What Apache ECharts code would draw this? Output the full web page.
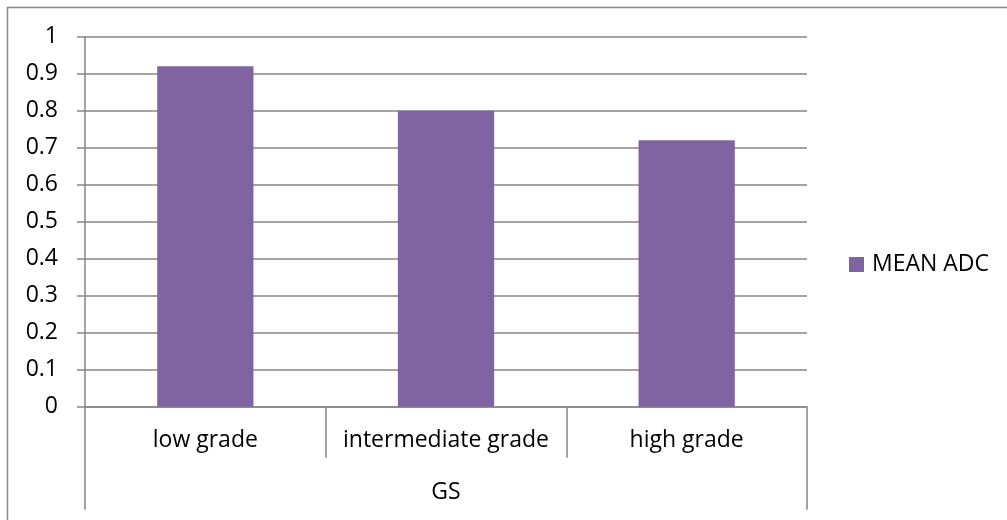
<!DOCTYPE html>
<html>
<head>
<meta charset="utf-8">
<script src="https://cdn.jsdelivr.net/npm/echarts@6/dist/echarts.min.js"></script>
<style>
  html, body { margin: 0; padding: 0; background: #fff; }
  #chart { width: 1007px; height: 520px; }
</style>
</head>
<body>
<div id="chart"></div>
<script>
// Mean ADC by tumour grade (GS)
const categories = ['low grade', 'intermediate grade', 'high grade'];
const groupLabels = ['GS'];
const seriesName = 'MEAN ADC';
const meanAdc = [0.92, 0.80, 0.72];
const yTicks = ['0', '0.1', '0.2', '0.3', '0.4', '0.5', '0.6', '0.7', '0.8', '0.9', '1'];

const FONT = '"Open Sans", Lato, sans-serif';
const FS = 23;
const GRAY = '#868686';
const TEXT = '#000000';

const chart = echarts.init(document.getElementById('chart'), null, { renderer: 'canvas' });

chart.setOption({
  animation: false,
  backgroundColor: '#ffffff',
  textStyle: { fontFamily: FONT },
  graphic: [{
    type: 'rect',
    shape: { x: 7.5, y: 7.5, width: 1020, height: 530 },
    style: { fill: 'none', stroke: GRAY, lineWidth: 1.5 },
    silent: true,
    z: -1
  }],
  legend: {
    show: true,
    data: [seriesName],
    orient: 'vertical',
    left: 849,
    top: 253,
    padding: 0,
    itemWidth: 15,
    itemHeight: 15,
    itemGap: 8,
    icon: 'rect',
    textStyle: { fontFamily: FONT, fontSize: FS, color: TEXT, padding: [0, 0, 0, 3] }
  },
  grid: {
    left: 85,
    right: 200,
    top: 36.7,
    bottom: 113.3,
    containLabel: false
  },
  xAxis: [{
    type: 'category',
    data: categories,
    position: 'bottom',
    boundaryGap: true,
    axisLine: { show: true, lineStyle: { color: GRAY, width: 1.5 } },
    axisTick: { show: true, inside: false, length: 51, lineStyle: { color: GRAY, width: 1.5 } },
    axisLabel: { fontFamily: FONT, fontSize: FS, color: TEXT, margin: 22, interval: 0 },
    splitLine: { show: false }
  }, {
    type: 'category',
    data: groupLabels,
    position: 'bottom',
    boundaryGap: true,
    axisLine: { show: false },
    axisTick: { show: true, inside: false, length: 103, lineStyle: { color: GRAY, width: 1.5 } },
    axisLabel: { fontFamily: FONT, fontSize: FS, color: TEXT, margin: 74, interval: 0 },
    splitLine: { show: false }
  }],
  yAxis: {
    type: 'value',
    min: 0,
    max: 1,
    interval: 0.1,
    axisLine: { show: true, lineStyle: { color: GRAY, width: 1.5 } },
    axisTick: { show: true, inside: false, length: 8, lineStyle: { color: GRAY, width: 1.5 } },
    axisLabel: {
      fontFamily: FONT,
      fontSize: FS,
      color: TEXT,
      margin: 27,
      formatter: function (v) {
        const i = Math.round(v * 10);
        return yTicks[i];
      }
    },
    splitLine: { show: true, lineStyle: { color: GRAY, width: 1.5 } }
  },
  series: [{
    name: seriesName,
    type: 'bar',
    xAxisIndex: 0,
    data: meanAdc,
    barWidth: '40%',
    itemStyle: { color: '#8064A2' },
    z: 3
  }]
});
</script>
</body>
</html>
